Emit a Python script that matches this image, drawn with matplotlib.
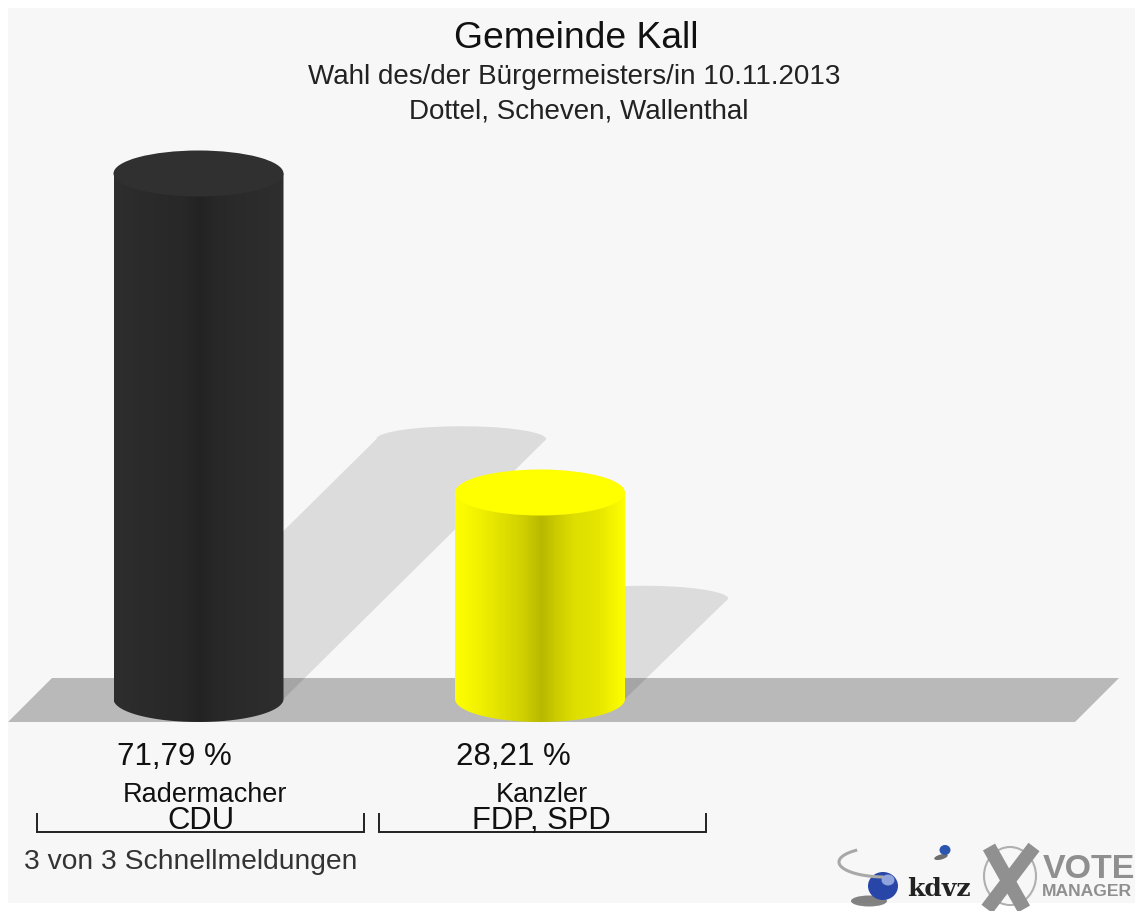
import numpy as np
import matplotlib
matplotlib.use('Agg')
import matplotlib.pyplot as plt
from matplotlib.patches import Polygon, Ellipse, PathPatch, Rectangle
from matplotlib.path import Path
from matplotlib.colors import LinearSegmentedColormap

# chart data
names = ['Radermacher', 'Kanzler']
parties = ['CDU', 'FDP, SPD']
shares = [71.79, 28.21]
share_labels = ['71,79 %', '28,21 %']
side_colors = [
    ['#2e2e2e', '#2b2b2b', '#282828', '#232323', '#272727', '#2a2a2a', '#2c2c2c', '#2e2e2e'],
    ['#ffff00', '#f0f000', '#d0d000', '#b8b800', '#c8c800', '#dede00', '#e6e600', '#ffff00'],
]
top_colors = ['#303030', '#ffff00']

W, H = 1135, 911
PX_PER_PCT = 7.32
BASE_Y = 699
CENTERS = [198.5, 540]
RX, RY = 85, 23
SHADE_STOPS = [0, 0.15, 0.4, 0.51, 0.58, 0.7, 0.85, 1]

plt.rcParams['font.family'] = ['Liberation Sans', 'DejaVu Sans']

fig = plt.figure(figsize=(W / 100, H / 100), dpi=100, facecolor='white')

# pixel axes for the stage, text and logo
bg = fig.add_axes([0, 0, 1, 1])
bg.set_xlim(0, W)
bg.set_ylim(H, 0)
bg.axis('off')

# data axes: x in pixels, y in percent
ax = fig.add_axes([0, 0, 1, 1])
ax.axis('off')
ax.patch.set_alpha(0)

bg.add_patch(Rectangle((8, 8), W - 8, H - 16, fc='#f7f7f7', ec='none'))
bg.add_patch(Polygon([(8, 722), (52, 678), (1119, 678), (1075, 722)], fc='#b9b9b9', ec='none'))

ry = RY / PX_PER_PCT


def arc(cx, cy, rx, ry_, start, stop):
    t = np.linspace(start, stop, 60)
    return np.column_stack([cx + rx * np.cos(t), cy + ry_ * np.sin(t)])


for cx, val, cols, top in zip(CENTERS, shares, side_colors, top_colors):
    # shadow falls up and to the right at 45 degrees, half the height of the bar
    dx = val * PX_PER_PCT * 0.5
    upper = arc(cx + dx, val * 0.5 - 3 / PX_PER_PCT, RX, 13 / PX_PER_PCT, np.pi, 0)
    pts = np.vstack([[(cx - RX, 0)], upper, [(cx + RX, 0)]])
    ax.add_patch(Polygon(pts, fc='black', alpha=0.105, ec='none', zorder=1))

    # cylinder body with horizontal shading
    body = np.vstack([arc(cx, 0, RX, ry, np.pi, 2 * np.pi), [(cx + RX, val), (cx - RX, val)]])
    patch = PathPatch(Path(np.vstack([body, body[:1]])), fc='none', ec='none', zorder=2)
    ax.add_patch(patch)
    cmap = LinearSegmentedColormap.from_list('side', list(zip(SHADE_STOPS, cols)))
    im = ax.imshow(np.linspace(0, 1, 256)[None, :], cmap=cmap, aspect='auto', zorder=2,
                   extent=(cx - RX, cx + RX, -ry, val + ry))
    im.set_clip_path(patch)
    ax.add_patch(Ellipse((cx, val), 2 * RX, 2 * ry, fc=top, ec='none', zorder=3))

ax.set_xlim(0, W)
ax.set_ylim(-(H - BASE_Y) / PX_PER_PCT, BASE_Y / PX_PER_PCT)

# titles
bg.text(576, 39, 'Gemeinde Kall', fontsize=26.8, ha='center', va='center', color='#111111')
bg.text(574, 77, 'Wahl des/der Bürgermeisters/in 10.11.2013', fontsize=20, ha='center', va='center', color='#222222')
bg.text(579, 112, 'Dottel, Scheven, Wallenthal', fontsize=20, ha='center', va='center', color='#222222')

# labels under the bars
label_x = [174, 513]
name_x = [205, 542]
party_x = [201, 541]
bracket_x = [(37, 364), (379, 706)]
for i in range(len(names)):
    bg.text(label_x[i], 757, share_labels[i], fontsize=22.5, ha='center', va='center', color='#111111')
    bg.text(name_x[i], 795, names[i], fontsize=19.5, ha='center', va='center', color='#111111')
    bg.text(party_x[i], 821, parties[i], fontsize=22.3, ha='center', va='center', color='#111111')
    x0, x1 = bracket_x[i]
    bg.plot([x0, x0, x1, x1], [814, 832, 832, 814], color='#222222', lw=1.4, solid_joinstyle='miter')

bg.text(24, 862, '3 von 3 Schnellmeldungen', fontsize=20.3, ha='left', va='center', color='#333333')

# kdvz / vote manager logo
t = np.linspace(np.pi * 0.52, np.pi * 1.28, 50)
bg.plot(885 + 46 * np.cos(t), 862 + 15 * np.sin(t), color='#a8a8a8', lw=2.2)
bg.add_patch(Ellipse((869, 901), 36, 11, fc='#333333', ec='none', alpha=0.6))
bg.add_patch(Ellipse((883, 886), 30, 28, fc='#2746a8', ec='none'))
bg.add_patch(Ellipse((888, 880), 13, 11, fc='#8fa4dc', ec='none'))
bg.add_patch(Ellipse((941, 857), 14, 5, fc='#333333', ec='none', alpha=0.7, angle=-15))
bg.add_patch(Ellipse((945, 850), 11, 10, fc='#2b56b0', ec='none'))
bg.text(939, 889, 'kdvz', fontsize=18, family='DejaVu Serif', fontweight='bold', ha='center',
        va='center', color='#222222')
bg.add_patch(Ellipse((1010, 876), 52, 58, fc='none', ec='#b0b0b0', lw=1.5))
bg.plot([989, 1024], [847, 909], color='#909090', lw=10, solid_capstyle='butt')
bg.plot([1034, 987], [847, 909], color='#909090', lw=10, solid_capstyle='butt')
bg.text(1089, 869, 'VOTE', fontsize=24.5, fontweight='bold', ha='center', va='center', color='#8f8f8f')
bg.text(1087, 891, 'MANAGER', fontsize=12.6, fontweight='bold', ha='center', va='center', color='#8f8f8f')

fig.savefig('out.png', dpi=100)
